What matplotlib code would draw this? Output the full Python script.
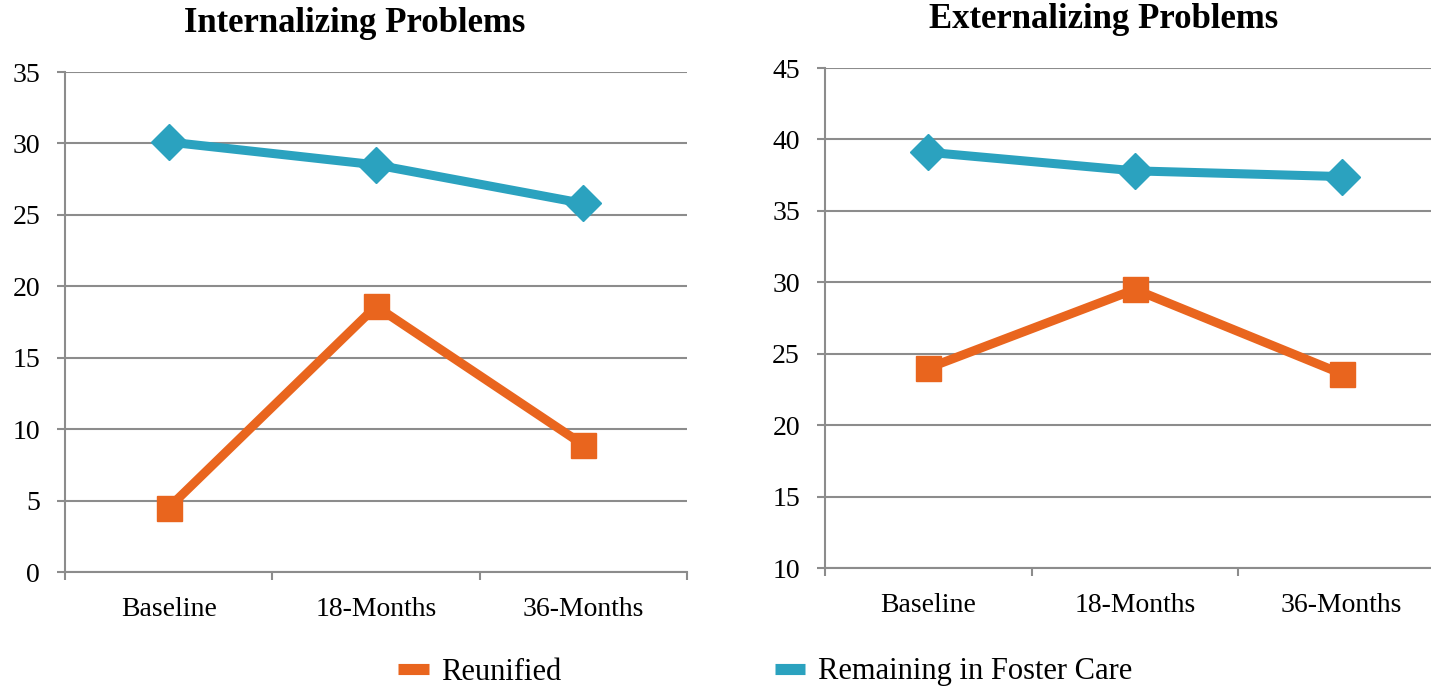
import matplotlib
matplotlib.use("Agg")
import matplotlib.pyplot as plt
from matplotlib.lines import Line2D

# data
timepoints = ["Baseline", "18-Months", "36-Months"]
intern_reunified = [4.5, 18.6, 8.9]
intern_foster = [30.1, 28.5, 25.8]
extern_reunified = [24.0, 29.5, 23.6]
extern_foster = [39.1, 37.8, 37.4]

orange = "#E9651E"
blue = "#2BA2BF"
grid_col = "#8C8C8C"

plt.rcParams['font.family'] = ['Liberation Serif', 'DejaVu Serif']

W, H = 1431, 686
fig = plt.figure(figsize=(W / 100, H / 100), dpi=100)


def make_panel(rect, reunified, foster, ylim, step):
    ax = fig.add_axes(rect)
    xs = [i + 0.5 for i in range(len(timepoints))]
    ax.plot(xs, foster, color=blue, lw=6.5, marker="D", ms=18, zorder=3)
    ax.plot(xs, reunified, color=orange, lw=6.5, marker="s", ms=18, zorder=3)
    ax.set_xlim(0, len(timepoints))
    ax.set_ylim(*ylim)
    ax.set_yticks(range(ylim[0], ylim[1] + 1, step))
    ax.set_xticks(range(len(timepoints) + 1))
    ax.set_xticklabels([])
    ax.set_xticks(xs, minor=True)
    ax.set_xticklabels(timepoints, minor=True)
    ax.tick_params(axis="x", which="major", length=6, width=1.5, color=grid_col)
    ax.tick_params(axis="x", which="minor", length=0, pad=18, labelsize=20)
    ax.tick_params(axis="y", length=6, width=1.5, color=grid_col, pad=12, labelsize=20)
    ax.grid(axis="y", color=grid_col, lw=1.5)
    ax.set_axisbelow(True)
    for s in ["top", "right"]:
        ax.spines[s].set_visible(False)
    for s in ["left", "bottom"]:
        ax.spines[s].set_color(grid_col)
        ax.spines[s].set_linewidth(1.5)
    return ax


make_panel([65 / W, 114 / H, 622 / W, 500 / H], intern_reunified, intern_foster, (0, 35), 5)
make_panel([825 / W, 118 / H, 620 / W, 500 / H], extern_reunified, extern_foster, (10, 45), 5)

fig.text(355 / W, 1 - 24 / H, "Internalizing Problems", ha="center", va="center",
         fontsize=25, fontweight="bold")
fig.text(1104 / W, 1 - 19 / H, "Externalizing Problems", ha="center", va="center",
         fontsize=25, fontweight="bold")

handles = [Line2D([], [], color=orange, lw=8, solid_capstyle="butt"),
           Line2D([], [], color=blue, lw=8, solid_capstyle="butt")]
fig.legend(handles, ["Reunified", "Remaining in Foster Care"], loc="center left",
           bbox_to_anchor=(398 / W, 1 - 672 / H), ncol=2, frameon=False, fontsize=22,
           handlelength=1.0, handletextpad=0.4, columnspacing=7.0, borderpad=0, borderaxespad=0)

fig.savefig("out.png", dpi=100)
